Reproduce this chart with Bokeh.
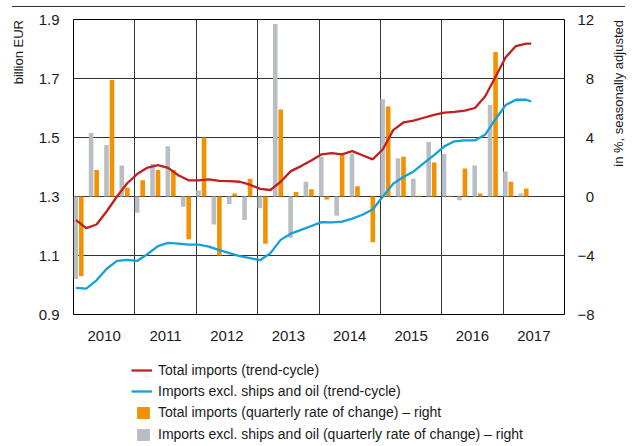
import math
from bokeh.plotting import figure
from bokeh.layouts import column, row
from bokeh.models import (Range1d, LinearAxis, FixedTicker, ColumnDataSource, Legend,
                          LegendItem, Label, Div)
from bokeh.embed import file_html
from bokeh.resources import INLINE

# ---------------- data ----------------
quarters = ["2010Q1", "2010Q2", "2010Q3", "2010Q4", "2011Q1", "2011Q2", "2011Q3", "2011Q4",
            "2012Q1", "2012Q2", "2012Q3", "2012Q4", "2013Q1", "2013Q2", "2013Q3", "2013Q4",
            "2014Q1", "2014Q2", "2014Q3", "2014Q4", "2015Q1", "2015Q2", "2015Q3", "2015Q4",
            "2016Q1", "2016Q2", "2016Q3", "2016Q4", "2017Q1", "2017Q2"]
excl_qoq = [-5.6, 4.3, 3.5, 2.1, -1.1, 2.2, 3.4, -0.7, 0.4, -1.9, -0.5, -1.6, -0.8, 11.7, -2.8, 1.0,
            2.7, -1.3, 2.9, 0.0, 6.6, 2.6, 1.2, 3.7, 2.9, -0.25, 2.1, 6.2, 1.7, 0.2]
total_qoq = [-5.4, 1.8, 7.9, 0.6, 1.1, 1.8, 1.8, -2.9, 4.0, -4.0, 0.2, 1.2, -3.2, 5.9, 0.3, 0.5,
             -0.2, 2.8, 0.7, -3.1, 6.1, 2.7, 0.05, 2.3, 0.05, 1.9, 0.2, 9.8, 1.0, 0.55]

months = ["2010-01", "2010-03", "2010-05", "2010-07", "2010-09", "2010-11",
          "2011-01", "2011-03", "2011-05", "2011-07", "2011-09", "2011-11",
          "2012-01", "2012-03", "2012-05", "2012-07", "2012-09", "2012-11",
          "2013-01", "2013-03", "2013-05", "2013-07", "2013-09", "2013-11",
          "2014-01", "2014-03", "2014-05", "2014-07", "2014-09", "2014-11",
          "2015-01", "2015-03", "2015-05", "2015-07", "2015-09", "2015-11",
          "2016-01", "2016-03", "2016-05", "2016-07", "2016-09", "2016-11",
          "2017-01", "2017-03", "2017-05", "2017-06"]
total_trend = [1.220, 1.193, 1.205, 1.250, 1.300, 1.345,
               1.377, 1.398, 1.406, 1.397, 1.372, 1.355,
               1.355, 1.358, 1.353, 1.352, 1.350, 1.340,
               1.326, 1.322, 1.350, 1.386, 1.403, 1.422,
               1.443, 1.447, 1.443, 1.454, 1.440, 1.426,
               1.460, 1.525, 1.551, 1.557, 1.567, 1.577,
               1.584, 1.587, 1.591, 1.600, 1.640, 1.705,
               1.772, 1.810, 1.818, 1.818]
excl_trend = [0.990, 0.988, 1.016, 1.055, 1.082, 1.085,
              1.082, 1.105, 1.132, 1.143, 1.140, 1.137,
              1.137, 1.130, 1.118, 1.108, 1.098, 1.091,
              1.084, 1.108, 1.153, 1.174, 1.187, 1.200,
              1.213, 1.212, 1.215, 1.225, 1.238, 1.256,
              1.300, 1.343, 1.366, 1.385, 1.413, 1.440,
              1.470, 1.487, 1.490, 1.490, 1.510, 1.562,
              1.610, 1.628, 1.628, 1.622]

years = [2010, 2011, 2012, 2013, 2014, 2015, 2016, 2017]
left_ticks = [0.9, 1.1, 1.3, 1.5, 1.7, 1.9]
right_ticks = [-8, -4, 0, 4, 8, 12]
right_tick_labels = ["\u22128", "\u22124", "\u20070", "\u20074", "\u20078", "12"]

RED = "#C0211F"
BLUE = "#13A0DB"
ORANGE = "#F39200"
GREY = "#B9BEC4"
FONT = "Liberation Sans"
TXT = "#1a1a1a"
TICK_FS = "15px"
LEG_FS = "14px"
TITLE_FS = "13px"

# ---------------- derived ----------------
def month_x(s):
    y, m = s.split("-")
    return int(y) + (int(m) - 0.5) / 12.0

def quarter_start(s):
    y, q = s.split("Q")
    return int(y) + (int(q) - 1) * 0.25

mx = [month_x(s) for s in months]
qs = [quarter_start(s) for s in quarters]
bars = ColumnDataSource(dict(xg=[q + 0.037 for q in qs], xo=[q + 0.127 for q in qs],
                             g=excl_qoq, o=total_qoq))
lines = ColumnDataSource(dict(x=mx, t=total_trend, e=excl_trend))

def blank(w, h):
    f = figure(width=w, height=h, output_backend="svg", toolbar_location=None,
               x_axis_type=None, y_axis_type=None, min_border=0,
               x_range=Range1d(0, w), y_range=Range1d(0, h))
    f.outline_line_color = None
    f.background_fill_color = "white"
    f.border_fill_color = "white"
    return f

# ---------------- main figure ----------------
ROW_H = 347
p = figure(width=580, height=ROW_H, output_backend="svg", toolbar_location=None,
           x_range=Range1d(2010, 2018), y_range=Range1d(0.9, 1.9),
           min_border_left=45, min_border_right=44, min_border_top=12, min_border_bottom=40)
p.extra_y_ranges = {"pct": Range1d(-8, 12)}
p.outline_line_color = "black"
p.outline_line_width = 1
p.background_fill_color = "white"
p.border_fill_color = "white"

gr = p.vbar(x="xg", top="g", bottom=0, width=0.075, source=bars, y_range_name="pct",
            fill_color=GREY, line_color=None)
orr = p.vbar(x="xo", top="o", bottom=0, width=0.075, source=bars, y_range_name="pct",
             fill_color=ORANGE, line_color=None)
lt = p.line(x="x", y="t", source=lines, line_color=RED, line_width=2.3)
le = p.line(x="x", y="e", source=lines, line_color=BLUE, line_width=2.3)

xa = p.xaxis[0]
xa.ticker = FixedTicker(ticks=[y + 0.5 for y in years])
xa.major_label_overrides = {y + 0.5: str(y) for y in years}
xa.axis_line_color = None
xa.major_tick_line_color = None
xa.minor_tick_line_color = None
xa.major_label_standoff = 10
xa.major_label_text_font = FONT
xa.major_label_text_font_size = TICK_FS
xa.major_label_text_color = TXT

ya = p.yaxis[0]
ya.ticker = FixedTicker(ticks=left_ticks)
ya.major_label_overrides = {t: f"{t:.1f}" for t in left_ticks}
ya.axis_line_color = None
ya.major_tick_line_color = None
ya.minor_tick_line_color = None
ya.major_label_standoff = 8
ya.major_label_text_font = FONT
ya.major_label_text_font_size = TICK_FS
ya.major_label_text_color = TXT

ra = LinearAxis(y_range_name="pct", ticker=FixedTicker(ticks=right_ticks))
ra.major_label_overrides = dict(zip(right_ticks, right_tick_labels))
ra.axis_line_color = None
ra.major_tick_line_color = None
ra.minor_tick_line_color = None
ra.major_label_standoff = 7
ra.major_label_text_font = FONT
ra.major_label_text_font_size = TICK_FS
ra.major_label_text_color = TXT
p.add_layout(ra, "right")

p.xgrid.ticker = FixedTicker(ticks=years[1:])
p.ygrid.ticker = FixedTicker(ticks=left_ticks[1:-1])
for g in (p.xgrid[0], p.ygrid[0]):
    g.grid_line_color = "#333333"
    g.grid_line_width = 1

# ---------------- side strips with the axis titles (frames aligned with main) ----------------
p_left = blank(28, ROW_H)
p_left.add_layout(Label(x=18, y=294.5, x_units="screen", y_units="screen", text="billion EUR",
                        angle=math.pi / 2, text_align="right", text_baseline="middle",
                        text_font=FONT, text_font_size=TITLE_FS, text_color=TXT))
p_right = blank(30, ROW_H)
p_right.add_layout(Label(x=9.5, y=294.5, x_units="screen", y_units="screen",
                         text="in %, seasonally adjusted",
                         angle=math.pi / 2, text_align="right", text_baseline="middle",
                         text_font=FONT, text_font_size=TITLE_FS, text_color=TXT))

# ---------------- top rule ----------------
top_rule = Div(text="", width=613, height=7, margin=(0, 0, 0, 12),
               styles={"border-bottom": "1px solid #333333"})

# ---------------- legend strip ----------------
p_leg = blank(638, 91)
d_lt = p_leg.line(x=[-20, -10], y=[-20, -20], line_color=RED, line_width=2.3)
d_le = p_leg.line(x=[-20, -10], y=[-20, -20], line_color=BLUE, line_width=2.3)
d_or = p_leg.vbar(x=[-20], top=[-20], bottom=-30, width=1, fill_color=ORANGE, line_color=None)
d_gr = p_leg.vbar(x=[-20], top=[-20], bottom=-30, width=1, fill_color=GREY, line_color=None)

def style_legend(lg):
    lg.border_line_color = None
    lg.background_fill_alpha = 0
    lg.padding = 0
    lg.margin = 0
    lg.label_text_font = FONT
    lg.label_text_font_size = LEG_FS
    lg.label_text_color = TXT

lg1 = Legend(items=[LegendItem(label="Total imports (trend-cycle)", renderers=[d_lt]),
                    LegendItem(label="Imports excl. ships and oil (trend-cycle)", renderers=[d_le])],
             location=(131, 46), glyph_width=21, glyph_height=16, label_height=16,
             spacing=5, label_standoff=6)
style_legend(lg1)
lg2 = Legend(items=[LegendItem(label="Total imports (quarterly rate of change) \u2013 right", renderers=[d_or]),
                    LegendItem(label="Imports excl. ships and oil (quarterly rate of change) \u2013 right", renderers=[d_gr])],
             location=(135, 3), glyph_width=16, glyph_height=15, label_height=15,
             spacing=6, label_standoff=7)
style_legend(lg2)
p_leg.add_layout(lg1)
p_leg.add_layout(lg2)

layout = column(top_rule, row(p_left, p, p_right), p_leg)
open("out.html", "w").write(file_html(layout, INLINE))
